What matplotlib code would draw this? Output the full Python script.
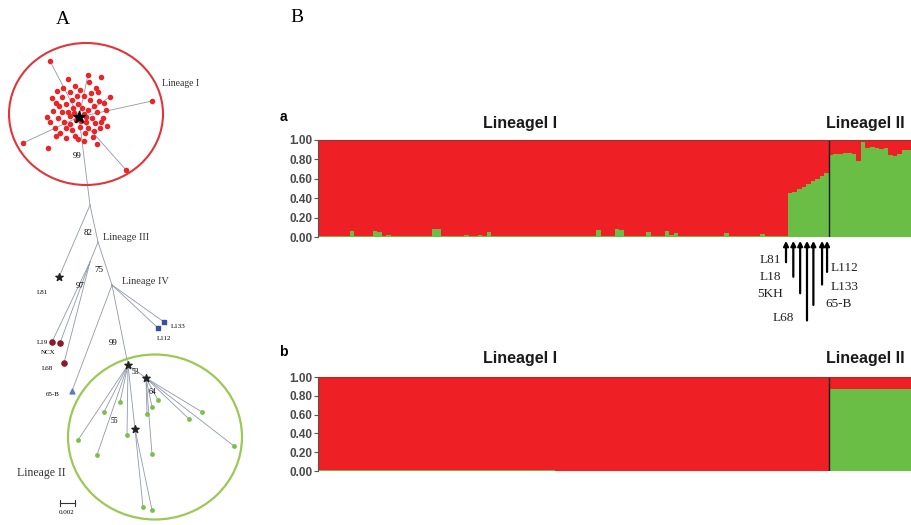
import matplotlib
matplotlib.use('Agg')
from matplotlib import pyplot as plt
from matplotlib.patches import Ellipse
from matplotlib.transforms import blended_transform_factory

# ---- panel B data: membership coefficients per individual (green = lineage II cluster)
green_a = ([0.01] * 7 + [0.06] + [0.01] * 4 + [0.06, 0.05, 0.01, 0.02] + [0.01] * 9 +
           [0.08, 0.08] + [0.01] * 5 + [0.02, 0.01, 0.01, 0.02, 0.01, 0.05] + [0.01] * 23 +
           [0.07, 0.01, 0.01, 0.01, 0.08, 0.07] + [0.01] * 5 + [0.05, 0.01, 0.01, 0.01,
           0.06, 0.02, 0.04] + [0.01] * 10 + [0.04] + [0.01] * 7 + [0.03] + [0.01] * 5 +
           [0.45, 0.46, 0.49, 0.52, 0.55, 0.58, 0.60, 0.63, 0.66] +
           [0.85, 0.86, 0.86, 0.87, 0.87, 0.86, 0.78, 0.98, 0.92, 0.93, 0.92, 0.91, 0.92,
            0.85, 0.84, 0.86, 0.90, 0.90])
green_b = [0.015] * 52 + [0.0] * 60 + [0.87] * 18
split_at = 112  # first lineage II individual

arrow_x = [102.6, 104.2, 105.7, 107.2, 108.6, 110.5, 111.6]
arrow_len = [-0.26, -0.41, -0.58, -0.86, -0.70, -0.49, -0.36]
arrow_names = ['L81', 'L18', '5KH', 'L68', '65-B', 'L133', 'L112']

# ---- panel A data: tree tips (pixel-like coordinates of the original drawing)
red_x = [50, 152, 23, 48, 97, 126, 68, 88, 101, 110, 89, 96, 98, 104, 106, 103, 107, 100,
         94, 85, 75, 66, 60, 55, 50, 47, 53, 56, 52, 57, 63, 70, 75, 80, 84, 90, 94, 88, 84,
         86, 92, 97, 72, 66, 62, 68, 73, 76, 70, 64, 72, 80, 88, 58, 78, 82, 91, 62, 99, 66,
         78, 84, 70, 74, 81, 86, 77, 59, 95, 101, 93, 56]
red_y = [61, 101, 143, 148, 144, 170, 79, 75, 77, 97, 82, 88, 92, 103, 110, 118, 126, 128,
         131, 133, 136, 138, 133, 128, 122, 117, 111, 103, 98, 91, 88, 92, 86, 90, 96, 100,
         106, 110, 114, 122, 118, 112, 100, 104, 112, 112, 108, 120, 124, 122, 130, 127, 128,
         118, 104, 108, 93, 97, 101, 128, 139, 141, 116, 113, 121, 117, 96, 106, 123, 122,
         137, 136]
green_x = [120, 104, 78, 97, 127, 152, 147, 152, 158, 189, 202, 234, 143, 152]
green_y = [402, 412, 440, 455, 435, 454, 414, 407, 400, 419, 412, 446, 507, 510]

red_center = (79, 117)
hub = (128, 365)
star2 = (146, 378)
star3 = (135, 429)
node1 = (90, 205)
node2 = (98, 242)
node97 = (90, 262)
node4 = (112, 285)
tip_l81 = (59, 277)
tips_97 = [(52, 342), (60, 343), (64, 363)]
tips_blue = [(164, 322), (158, 328)]
tip_65b = (72, 391)

fig = plt.figure(figsize=(9.11, 5.25), dpi=100)

# ================= panel A : tree =================
axt = fig.add_axes([0, 0, 260 / 911, 1])
axt.set_xlim(0, 260)
axt.set_ylim(525, 0)
axt.axis('off')

lc = '#8f98a8'
lw = 0.6


def seg(p, q, c=lc):
    axt.plot([p[0], q[0]], [p[1], q[1]], color=c, lw=lw, zorder=1)


for i in [0, 1, 2, 5, 7, 9]:
    seg(red_center, (red_x[i], red_y[i]))
seg(red_center, node1)
seg(node1, tip_l81)
seg(node1, node2)
seg(node2, node97)
seg(node2, node4)
for t in tips_97:
    seg(node97, t)
for t in tips_blue:
    seg(node4, t)
seg(node4, tip_65b)
seg(node4, hub)
for gx, gy in zip(green_x[:5], green_y[:5]):
    seg(hub, (gx, gy))
seg(hub, star2)
seg(hub, star3)
for gx, gy in zip(green_x[5:12], green_y[5:12]):
    seg(star2, (gx, gy))
for gx, gy in zip(green_x[12:], green_y[12:]):
    seg(star3, (gx, gy))

axt.add_patch(Ellipse((86, 114), 154, 142, fill=False, ec='#e0353a', lw=1.5))
axt.add_patch(Ellipse((155, 437), 174, 165, fill=False, ec='#9cc856', lw=1.6))

axt.scatter(red_x, red_y, s=16, color='#e8262a', zorder=3, linewidths=0)
axt.scatter(green_x, green_y, s=12, color='#7dbf4a', zorder=3, linewidths=0)
axt.scatter(*red_center, marker='*', s=80, color='black', zorder=4)
for p in [hub, star2, star3]:
    axt.scatter(*p, marker='*', s=30, color='#222222', zorder=4)
axt.scatter(*tip_l81, marker='*', s=30, color='#222222', zorder=4)
axt.scatter([t[0] for t in tips_97], [t[1] for t in tips_97], s=14, color='#8b1a2a', zorder=4)
axt.scatter([t[0] for t in tips_blue], [t[1] for t in tips_blue], s=6, marker='s',
            color='#3a4fa0', zorder=4)
axt.scatter(*tip_65b, s=12, marker='^', color='#5a7ac0', zorder=4)

serif = 'Liberation Serif'
axt.text(63, 20, 'A', fontsize=14, family=serif, ha='center', va='center')
axt.text(162, 83, 'Lineage I', fontsize=7, family=serif, color='#333333', va='center')
axt.text(73, 156, '99', fontsize=6.5, family=serif, va='center')
axt.text(84, 233, '82', fontsize=6.5, family=serif, va='center')
axt.text(103, 237, 'Lineage III', fontsize=7.5, family=serif, color='#333333', va='center')
axt.text(94, 270, '75', fontsize=6.5, family=serif, va='center')
axt.text(76, 286, '97', fontsize=6.5, family=serif, va='center')
axt.text(122, 282, 'Lineage IV', fontsize=7.5, family=serif, color='#333333', va='center')
axt.text(42, 292, 'L81', fontsize=5, family=serif, ha='center', va='center')
axt.text(42, 343, 'L19', fontsize=5, family=serif, ha='center', va='center')
axt.text(48, 353, 'NCX', fontsize=5, family=serif, ha='center', va='center')
axt.text(47, 369, 'L68', fontsize=5, family=serif, ha='center', va='center')
axt.text(171, 327, 'L133', fontsize=5, family=serif, va='center')
axt.text(157, 338, 'L112', fontsize=5, family=serif, va='center')
axt.text(53, 395, '65-B', fontsize=5, family=serif, ha='center', va='center')
axt.text(109, 343, '99', fontsize=6.5, family=serif, va='center')
axt.text(132, 372, '53', fontsize=5.5, family=serif, va='center')
axt.text(149, 392, '64', fontsize=5.5, family=serif, va='center')
axt.text(111, 421, '55', fontsize=5.5, family=serif, va='center')
axt.text(17, 473, 'Lineage II', fontsize=8.5, family=serif, color='#333333', va='center')
axt.plot([60, 75], [503, 503], color='#333333', lw=0.8)
axt.plot([60, 60], [500, 506], color='#333333', lw=0.8)
axt.plot([75, 75], [500, 506], color='#333333', lw=0.8)
axt.text(67, 513, '0.002', fontsize=5, family=serif, ha='center', va='center')

fig.text(297 / 911, 1 - 18 / 525, 'B', fontsize=14, family=serif, ha='center', va='center')

# ================= panel B : structure bar plots =================
red = '#ee1f25'
green = '#6abd45'
bold_font = 'Liberation Sans'


def structure(ax, g, label, yl, yt):
    idx = list(range(len(g)))
    r = [1 - v for v in g]
    ax.bar(idx, g, width=1.0, align='edge', color=green, linewidth=0)
    ax.bar(idx, r, bottom=g, width=1.0, align='edge', color=red, linewidth=0)
    ax.axvline(split_at, color='#1a1a1a', lw=1)
    ax.set_xlim(0, len(g))
    ax.set_ylim(0, 1)
    ax.set_xticks([])
    ax.set_yticks([0, 0.2, 0.4, 0.6, 0.8, 1.0])
    ax.set_yticklabels(['0.00', '0.20', '0.40', '0.60', '0.80', '1.00'],
                       fontsize=8.5, fontweight='bold', color='#4a4a4a', family=bold_font)
    ax.tick_params(axis='y', length=3, width=0.8, color='#555555', pad=1)
    for s in ['right', 'bottom']:
        ax.spines[s].set_visible(False)
    ax.spines['top'].set_color('#a0302a')
    ax.spines['top'].set_linewidth(0.8)
    ax.spines['left'].set_color('#555555')
    ax.spines['left'].set_linewidth(0.8)
    ax.text(-0.059, yl, label, transform=ax.transAxes, fontsize=10, fontweight='bold',
            family=bold_font, ha='center', va='center')
    ax.text(0.34, yt, 'LineageI I', transform=ax.transAxes, fontsize=11.5, fontweight='bold',
            family=bold_font, ha='center', va='center', color='#1a1a1a')
    ax.text(0.923, yt, 'LineageI II', transform=ax.transAxes, fontsize=11.5, fontweight='bold',
            family=bold_font, ha='center', va='center', color='#1a1a1a')


ax_a = fig.add_axes([318 / 911, (525 - 237) / 525, 593 / 911, 97 / 525])
structure(ax_a, green_a, 'a', 1.24, 1.165)

ax_b = fig.add_axes([318 / 911, (525 - 471) / 525, 593 / 911, 94 / 525])
structure(ax_b, green_b, 'b', 1.27, 1.20)

# arrows marking admixed individuals
tr = blended_transform_factory(ax_a.transData, ax_a.transAxes)
for x, y0 in zip(arrow_x, arrow_len):
    ax_a.annotate('', xy=(x, -0.04), xytext=(x, y0), xycoords=tr, textcoords=tr,
                  arrowprops=dict(arrowstyle='-|>', lw=1.6, color='black',
                                  mutation_scale=7, shrinkA=0, shrinkB=0),
                  annotation_clip=False)

label_pos = {'L81': (101.5, -0.24, 'right'), 'L18': (101.5, -0.41, 'right'),
             '5KH': (101.9, -0.59, 'right'), 'L68': (104.4, -0.84, 'right'),
             'L112': (112.4, -0.32, 'left'), 'L133': (112.4, -0.52, 'left'),
             '65-B': (111.3, -0.69, 'left')}
for name in arrow_names:
    x, y, ha = label_pos[name]
    ax_a.text(x, y, name, transform=tr, fontsize=9.5, family=serif, ha=ha, va='center',
              color='#222222')

plt.savefig('out.png', dpi=100)
